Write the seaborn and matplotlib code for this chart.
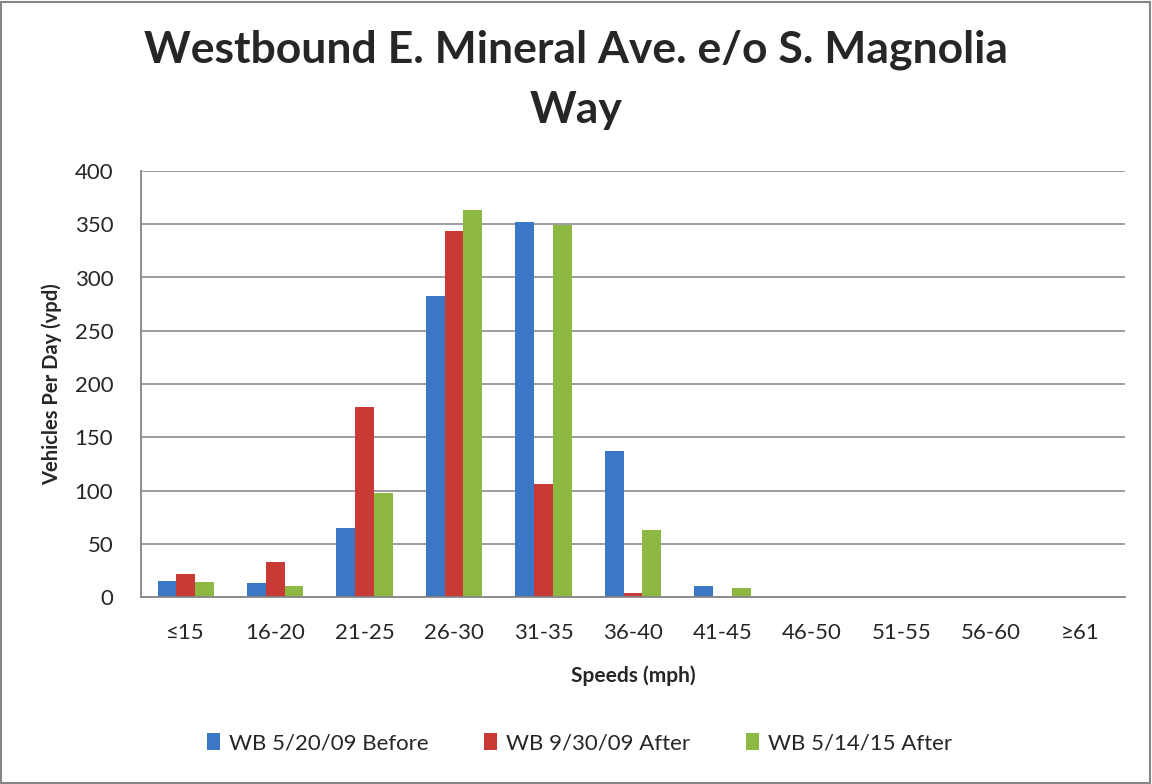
import matplotlib
matplotlib.use("Agg")
import matplotlib.pyplot as plt
import seaborn as sns
import pandas as pd
from matplotlib.patches import Rectangle

speeds = ["≤15", "16-20", "21-25", "26-30", "31-35", "36-40", "41-45",
          "46-50", "51-55", "56-60", "≥61"]
before_0520 = [15, 13, 65, 283, 352, 137, 10, 0, 0, 0, 0]
after_0930 = [22, 33, 178, 344, 106, 4, 0, 0, 0, 0, 0]
after_0514 = [14, 10, 98, 363, 349, 63, 8, 0, 0, 0, 0]
series_names = ["WB 5/20/09 Before", "WB 9/30/09 After", "WB 5/14/15 After"]
colors = ["#3a78c6", "#c83a36", "#8db842"]

rows = []
for name, vals in zip(series_names, [before_0520, after_0930, after_0514]):
    for s, v in zip(speeds, vals):
        rows.append({"speed": s, "vpd": v, "series": name})
df = pd.DataFrame(rows)

sns.set_style("white")
plt.rcParams["font.family"] = ["Lato", "DejaVu Sans"]

fig = plt.figure(figsize=(11.52, 7.84), dpi=100)
ax = fig.add_axes([141 / 1152, 1 - 597 / 784, 984 / 1152, 426 / 784])

sns.barplot(data=df, x="speed", y="vpd", hue="series", palette=colors,
            width=0.63, order=speeds, hue_order=series_names, ax=ax,
            saturation=1, linewidth=0, legend=True)

ax.set_ylim(0, 400)
ax.set_xlim(-0.5, len(speeds) - 0.5)
ax.set_yticks(range(0, 401, 50))
ax.yaxis.grid(True, color="#8c8c8c", linewidth=1.2)
ax.set_axisbelow(True)
for side in ["top", "right"]:
    ax.spines[side].set_visible(False)
for side in ["left", "bottom"]:
    ax.spines[side].set_color("#868686")
    ax.spines[side].set_linewidth(1.3)

# category ticks between groups, Excel style
ax.set_xticks([i - 0.5 for i in range(len(speeds) + 1)], minor=False)
ax.set_xticklabels([])
ax.set_xticks(range(len(speeds)), minor=True)
ax.set_xticklabels(speeds, minor=True, fontsize=16)
ax.tick_params(axis="x", which="major", length=7, color="#868686", width=1.3)
ax.tick_params(axis="x", which="minor", length=0, pad=19)
ax.tick_params(axis="y", length=6, color="#868686", width=1.3, labelsize=16, pad=14)

ax.set_xlabel("Speeds (mph)", fontsize=15, fontweight="bold", labelpad=16)
ax.set_ylabel("Vehicles Per Day (vpd)", fontsize=14.5, fontweight="bold", labelpad=9)

fig.suptitle("Westbound E. Mineral Ave. e/o S. Magnolia\nWay", fontsize=32,
             fontweight="bold", y=0.962, linespacing=1.6)

ax.legend(loc="center", bbox_to_anchor=(0.503, 743 / 784 * -1 + 1),
          bbox_transform=fig.transFigure, ncol=3, frameon=False,
          fontsize=16, handlelength=0.6, handleheight=0.8, columnspacing=2.5,
          handletextpad=0.4)

fig.patches.append(Rectangle((0.001, 0.001), 0.997, 0.997, transform=fig.transFigure,
                             fill=False, edgecolor="#868686", linewidth=1.5))

fig.savefig("out.png", dpi=100)
